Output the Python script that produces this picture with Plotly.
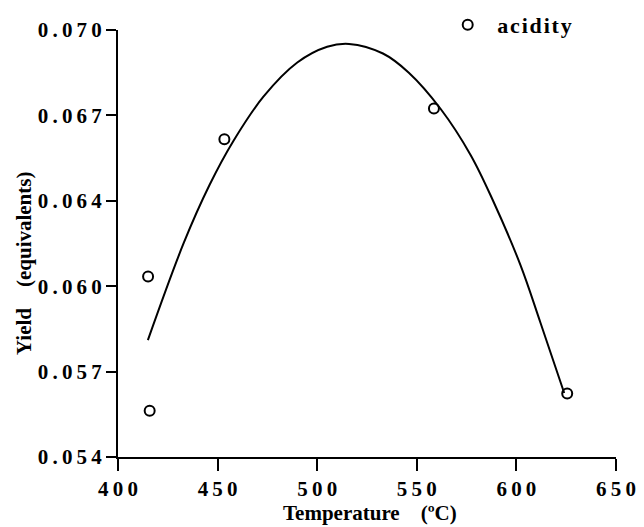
import plotly.graph_objects as go

# Data
temperature = [415.1, 415.9, 453.4, 558.6, 625.5]
acidity = [0.06076, 0.05573, 0.06591, 0.06706, 0.05638]

# fitted curve
fit_x = [415, 433, 446, 458, 473, 490, 505, 516, 533, 546, 562, 577, 588, 602, 612, 624]
fit_y = [0.05838, 0.06202, 0.06420, 0.06585, 0.06750, 0.06878, 0.06937, 0.06948,
         0.06912, 0.06840, 0.06704, 0.06532, 0.06365, 0.06120, 0.05905, 0.05640]

x_ticks = [400, 450, 500, 550, 600, 650]
y_ticks = [0.054, 0.0572, 0.0604, 0.0636, 0.0668, 0.070]
y_tick_labels = ["0.054", "0.057", "0.060", "0.064", "0.067", "0.070"]

FONT = "Liberation Serif"
NB = "\u00a0"
THIN = "\u2009"

def spaced(s, sep=THIN):
    return sep.join(list(s))

fig = go.Figure()
fig.add_trace(go.Scatter(
    x=fit_x, y=fit_y, mode="lines", line=dict(color="black", width=2, shape="spline", smoothing=1.0),
    showlegend=False, hoverinfo="skip"))
fig.add_trace(go.Scatter(
    x=temperature, y=acidity, mode="markers", name=spaced("acidity", "\u200a"),
    marker=dict(symbol="circle-open", size=10, color="black", line=dict(width=2))))

fig.update_layout(
    width=644, height=527,
    margin=dict(l=117.5, r=28, t=30, b=70.3, autoexpand=False),
    paper_bgcolor="white", plot_bgcolor="white",
    font=dict(family=FONT, color="black", size=21, weight="bold"),
    showlegend=True,
    legend=dict(x=0.643, y=1.0117, xanchor="left", yanchor="middle", itemwidth=49,
                bgcolor="rgba(0,0,0,0)", font=dict(size=22, family=FONT, weight="bold")),
)
fig.update_xaxes(
    range=[400, 650], tickvals=x_ticks, ticktext=[spaced(str(v)) for v in x_ticks],
    showline=True, linecolor="black", linewidth=2, ticks="outside", ticklen=12,
    tickwidth=2, tickcolor="black", showgrid=False, zeroline=False, automargin=False,
    tickfont=dict(size=21, family=FONT, weight="bold"))
fig.update_yaxes(
    range=[0.054, 0.070], tickvals=y_ticks, ticktext=[spaced(t) for t in y_tick_labels],
    showline=True, linecolor="black", linewidth=2, ticks="outside", ticklen=10,
    tickwidth=2, tickcolor="black", showgrid=False, zeroline=False, automargin=False,
    tickfont=dict(size=21, family=FONT, weight="bold"))

fig.add_annotation(
    text="Temperature" + NB * 4 + "(ºC)", xref="paper", yref="paper",
    x=0.5065, y=-0.163, xanchor="center", yanchor="bottom", showarrow=False,
    font=dict(size=21, family=FONT, weight="bold"))
fig.add_annotation(
    text="Yield" + NB * 4 + "(equivalents)", xref="paper", yref="paper",
    x=-0.19, y=0.455, xanchor="center", yanchor="middle", textangle=-90,
    showarrow=False, font=dict(size=21, family=FONT, weight="bold"))

fig.write_html("out.html", config={"displayModeBar": False},
               post_script="document.body.style.margin='0';document.body.style.overflow='hidden';")
